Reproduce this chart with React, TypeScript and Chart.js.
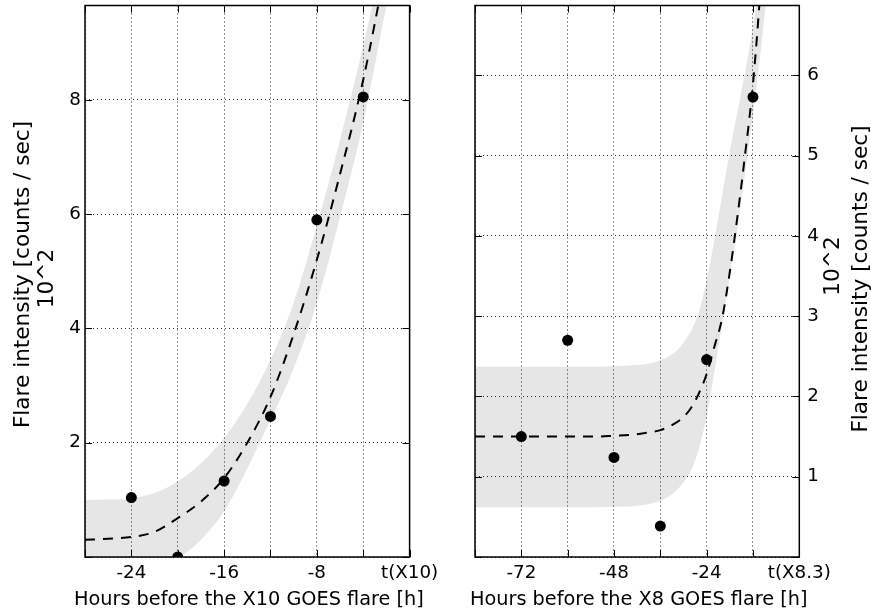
import React, { useEffect, useRef } from 'react';
import { Chart, registerables } from 'chart.js';
Chart.register(...registerables);

// ---------- Left panel: X10 GOES flare ----------
const leftHours = [-24, -20, -16, -12, -8, -4];
const leftFlux = [1.04, 0.0, 1.33, 2.46, 5.9, 8.05];
const leftFitHours = [-28, -26, -24, -22, -20, -18, -16, -14, -12, -10, -8, -6, -4, -2, 0];
const leftFit = [0.3, 0.32, 0.35, 0.44, 0.68, 0.97, 1.38, 2.0, 2.8, 3.9, 5.2, 6.7, 8.35, 10.4, 12.6];
const leftUpper = [1.0, 1.005, 1.03, 1.12, 1.32, 1.64, 2.08, 2.68, 3.45, 4.45, 5.8, 7.3, 8.95, 10.8, 12.8];
const leftLower = [-0.6, -0.5, -0.35, -0.2, -0.03, 0.3, 0.8, 1.55, 2.4, 3.3, 4.45, 5.95, 7.6, 9.65, 11.7];
const leftXTickValues = [-24, -16, -8, 0];
const leftXTickLabels = ['-24', '-16', '-8', 't(X10)'];
const leftYTickValues = [2, 4, 6, 8];
const leftXTitle = 'Hours before the X10 GOES flare [h]';

// ---------- Right panel: X8.3 GOES flare ----------
const rightHours = [-72, -60, -48, -36, -24, -12];
const rightFlux = [1.5, 2.7, 1.24, 0.385, 2.46, 5.73];
const rightFitHours = [-84, -72, -60, -52, -48, -44, -40, -36, -32, -30, -28, -26, -24, -22, -20, -18, -16, -14, -12, -10, -8];
const rightFit = [1.5, 1.5, 1.5, 1.5, 1.51, 1.52, 1.545, 1.58, 1.67, 1.745, 1.86, 2.04, 2.28, 2.62, 2.97, 3.55, 4.25, 5.03, 5.89, 7.1, 8.5];
const rightUpper = [2.37, 2.37, 2.37, 2.37, 2.375, 2.385, 2.4, 2.45, 2.56, 2.67, 2.82, 3.05, 3.45, 3.95, 4.5, 5.05, 5.55, 6.05, 6.6, 7.2, 7.9];
const rightLower = [0.62, 0.62, 0.62, 0.62, 0.625, 0.63, 0.65, 0.7, 0.82, 0.93, 1.08, 1.35, 1.75, 2.3, 2.9, 3.5, 4.1, 4.8, 5.5, 6.3, 7.2];
const rightXTickValues = [-72, -48, -24, 0];
const rightXTickLabels = ['-72', '-48', '-24', 't(X8.3)'];
const rightYTickValues = [1, 2, 3, 4, 5, 6];
const rightXTitle = 'Hours before the X8 GOES flare [h]';

const yTitle = 'Flare intensity [counts / sec]';
const yUnit = '10^2';

const FONT = 'DejaVu Sans';
const BAND = '#e6e6e6';

type TitleLine = { text: string; x: number; y: number };

function pts(xs: number[], ys: number[]) {
  return xs.map((x, i) => ({ x, y: ys[i] }));
}

function framePlugin(titles: TitleLine[], xTitle: string, xTitleShift: number) {
  return {
    id: 'frame',
    afterDraw(chart: any) {
      const { ctx, chartArea: a, scales } = chart;
      ctx.save();
      ctx.strokeStyle = '#000';
      ctx.lineWidth = 1;
      const L = 7;
      const seg = (x1: number, y1: number, x2: number, y2: number) => {
        ctx.beginPath();
        ctx.moveTo(x1, y1);
        ctx.lineTo(x2, y2);
        ctx.stroke();
      };
      scales.x.ticks.forEach((t: any) => {
        const px = Math.round(scales.x.getPixelForValue(t.value)) + 0.5;
        seg(px, a.bottom, px, a.bottom - L);
        seg(px, a.top, px, a.top + L);
      });
      scales.y.ticks.forEach((t: any) => {
        const py = Math.round(scales.y.getPixelForValue(t.value)) + 0.5;
        seg(a.left, py, a.left + L, py);
        seg(a.right, py, a.right - L, py);
      });
      ctx.lineWidth = 1.5;
      ctx.strokeRect(a.left, a.top, a.right - a.left, a.bottom - a.top);
      ctx.fillStyle = '#000';
      // x-axis title (drawn here so that it is not squeezed to the axis width)
      ctx.font = `19.3px "${FONT}"`;
      ctx.textAlign = 'center';
      ctx.textBaseline = 'alphabetic';
      ctx.fillText(xTitle, (a.left + a.right) / 2 + xTitleShift, 605);
      // rotated y-axis titles
      ctx.font = `21.6px "${FONT}"`;
      ctx.textBaseline = 'middle';
      titles.forEach((t) => {
        ctx.save();
        ctx.translate(t.x, t.y);
        ctx.rotate(-Math.PI / 2);
        ctx.fillText(t.text, 0, 0);
        ctx.restore();
      });
      ctx.restore();
    },
  };
}

type PanelCfg = {
  hours: number[];
  flux: number[];
  fitHours: number[];
  fit: number[];
  upper: number[];
  lower: number[];
  xMin: number;
  xMax: number;
  xStep: number;
  yMax: number;
  yStep: number;
  xTickValues: number[];
  xTickLabels: string[];
  yTickValues: number[];
  xTitle: string;
  yPosition: 'left' | 'right';
  yWidth: number;
  padding: { left: number; right: number; top: number; bottom: number };
  titles: TitleLine[];
};

function makeConfig(c: PanelCfg): any {
  const lineCommon = {
    showLine: true,
    pointRadius: 0,
    cubicInterpolationMode: 'monotone',
    clip: 0,
  };
  return {
    type: 'scatter',
    data: {
      datasets: [
        {
          label: 'data',
          data: pts(c.hours, c.flux),
          pointRadius: 5.5,
          pointBackgroundColor: '#000',
          pointBorderWidth: 0,
          showLine: false,
          clip: 0,
        },
        {
          label: 'fit',
          data: pts(c.fitHours, c.fit),
          ...lineCommon,
          borderColor: '#000',
          borderWidth: 2,
          borderDash: [10, 8],
          fill: false,
        },
        {
          label: 'upper',
          data: pts(c.fitHours, c.upper),
          ...lineCommon,
          borderColor: 'rgba(0,0,0,0)',
          borderWidth: 0,
          backgroundColor: BAND,
          fill: '+1',
        },
        {
          label: 'lower',
          data: pts(c.fitHours, c.lower),
          ...lineCommon,
          borderColor: 'rgba(0,0,0,0)',
          borderWidth: 0,
          fill: false,
        },
      ],
    },
    options: {
      responsive: false,
      animation: false,
      devicePixelRatio: 1,
      events: [],
      layout: { padding: c.padding },
      plugins: {
        legend: { display: false },
        tooltip: { enabled: false },
      },
      scales: {
        x: {
          type: 'linear',
          position: 'bottom',
          min: c.xMin,
          max: c.xMax,
          grid: { color: 'rgba(0,0,0,0.85)', lineWidth: 1, drawTicks: false, z: 1 },
          border: { display: false, dash: [1, 3] },
          ticks: {
            stepSize: c.xStep,
            includeBounds: false,
            autoSkip: false,
            maxRotation: 0,
            padding: 5,
            color: '#000',
            font: { family: FONT, size: 18.3 },
            callback: (v: number) => {
              const i = c.xTickValues.findIndex((t) => Math.abs(t - v) < 1e-6);
              return i >= 0 ? c.xTickLabels[i] : '';
            },
          },
          title: { display: false },
          afterFit: (s: any) => {
            s.height = 59;
            s.paddingLeft = 0;
            s.paddingRight = 0;
          },
        },
        y: {
          type: 'linear',
          position: c.yPosition,
          min: 0,
          max: c.yMax,
          grid: { color: 'rgba(0,0,0,0.85)', lineWidth: 1, drawTicks: false, z: 1 },
          border: { display: false, dash: [1, 3] },
          ticks: {
            stepSize: c.yStep,
            includeBounds: false,
            autoSkip: false,
            padding: c.yPosition === 'left' ? 4 : 8,
            color: '#000',
            font: { family: FONT, size: 18.3 },
            callback: (v: number) => {
              const i = c.yTickValues.findIndex((t) => Math.abs(t - v) < 1e-6);
              return i >= 0 ? String(c.yTickValues[i]) : '';
            },
          },
          afterFit: (s: any) => {
            s.width = c.yWidth;
            s.paddingTop = 0;
            s.paddingBottom = 0;
          },
        },
      },
    },
    plugins: [framePlugin(c.titles, c.xTitle, 1.6)],
  };
}

export default function App() {
  const leftRef = useRef<HTMLCanvasElement>(null);
  const rightRef = useRef<HTMLCanvasElement>(null);

  useEffect(() => {
    Chart.defaults.font.family = FONT;
    Chart.defaults.color = '#000';
    const left = new Chart(
      leftRef.current as HTMLCanvasElement,
      makeConfig({
        hours: leftHours,
        flux: leftFlux,
        fitHours: leftFitHours,
        fit: leftFit,
        upper: leftUpper,
        lower: leftLower,
        xMin: -28,
        xMax: 0,
        xStep: 4,
        yMax: 9.65,
        yStep: 2,
        xTickValues: leftXTickValues,
        xTickLabels: leftXTickLabels,
        yTickValues: leftYTickValues,
        xTitle: leftXTitle,
        yPosition: 'left',
        yWidth: 85,
        padding: { left: 0, right: 35.4, top: 4, bottom: 0 },
        titles: [
          { text: yTitle, x: 23.2, y: 274.5 },
          { text: yUnit, x: 47.5, y: 278.5 },
        ],
      })
    );
    const right = new Chart(
      rightRef.current as HTMLCanvasElement,
      makeConfig({
        hours: rightHours,
        flux: rightFlux,
        fitHours: rightFitHours,
        fit: rightFit,
        upper: rightUpper,
        lower: rightLower,
        xMin: -84,
        xMax: 0,
        xStep: 12,
        yMax: 6.87,
        yStep: 1,
        xTickValues: rightXTickValues,
        xTickLabels: rightXTickLabels,
        yTickValues: rightYTickValues,
        xTitle: rightXTitle,
        yPosition: 'right',
        yWidth: 71.7,
        padding: { left: 35, right: 0, top: 4, bottom: 0 },
        titles: [
          { text: yUnit, x: 393.5, y: 266 },
          { text: yTitle, x: 421.5, y: 279 },
        ],
      })
    );
    return () => {
      left.destroy();
      right.destroy();
    };
  }, []);

  return (
    <div style={{ position: 'absolute', left: 0, top: 0, width: 871, height: 616, background: '#fff' }}>
      <canvas ref={leftRef} width={445} height={616} style={{ position: 'absolute', left: 0, top: 0 }} />
      <canvas ref={rightRef} width={431} height={616} style={{ position: 'absolute', left: 440, top: 0 }} />
    </div>
  );
}
